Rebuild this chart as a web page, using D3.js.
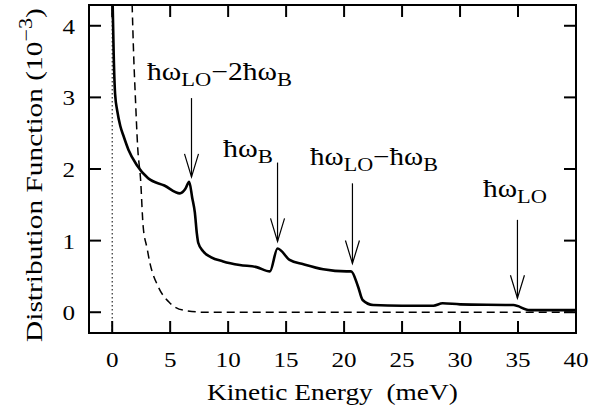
<!DOCTYPE html>
<html><head><meta charset="utf-8">
<script src="https://cdn.jsdelivr.net/npm/d3@7"></script>
<style>body{margin:0;background:#fff}svg{display:block}</style>
</head><body><svg id="c" width="611" height="413"></svg>
<script>
// Solid curve: simulated distribution (E in meV, f in 1e-3)
const solidE = [0.04,0.13,0.25,0.45,0.7,1.0,1.4,2.1,3.1,4.5,5.84,6.3,6.64,6.9,7.13,7.3,7.42,7.84,8.5,9.57,11,12.45,13.6,14.26,15.3,16.5,18.2,20.2,20.6,21.2,21.6,22.5,25,27.7,28.5,30,34.6,36,40];
const solidF = [4.3,3.6,3.05,2.8,2.6,2.45,2.27,2.06,1.87,1.77,1.66,1.72,1.82,1.6,1.39,1.1,0.97,0.85,0.77,0.71,0.66,0.63,0.57,0.89,0.73,0.67,0.60,0.57,0.57,0.36,0.17,0.10,0.09,0.09,0.125,0.11,0.10,0.03,0.03];
// Dashed curve: equilibrium distribution
const dashE = [1.72,1.85,2.0,2.2,2.45,2.67,3.0,3.25,3.96,4.97,6.1,8,40];
const dashF = [4.3,3.6,3.0,2.3,1.85,1.2,0.9,0.69,0.36,0.13,0.03,0.0,0.0];
const xTicks = [0,5,10,15,20,25,30,35,40];
const yTicks = [0,1,2,3,4];
// Arrow annotations
const arrowE = [6.84,14.26,20.72,34.95];
const arrowTop = [2.99,2.09,1.80,1.29];
const arrowTip = [1.89,0.99,0.68,0.195];

const FONT = 'Liberation Serif, Tinos, Times New Roman, serif';
const svg = d3.select("#c").style("font-family",FONT);
const L=89,R=576,T=5,B=333;
const x = d3.scaleLinear().domain([-2,40]).range([L,R]);
const y = d3.scaleLinear().domain([-0.29,4.29]).range([B,T]);

svg.append("clipPath").attr("id","cl").append("rect").attr("x",L).attr("y",T).attr("width",R-L).attr("height",B-T);
const g = svg.append("g").attr("clip-path","url(#cl)");

g.append("line").attr("x1",x(0)).attr("x2",x(0)).attr("y1",T).attr("y2",B)
 .attr("stroke","#000").attr("stroke-width",1).attr("stroke-dasharray","1.5,2.5");

const line = d3.line().x(d=>x(d[0])).y(d=>y(d[1])).curve(d3.curveMonotoneX);
g.append("path").datum(dashE.map((e,i)=>[e,dashF[i]])).attr("d",line)
 .attr("fill","none").attr("stroke","#000").attr("stroke-width",1.5).attr("stroke-dasharray","8,5");
g.append("path").datum(solidE.map((e,i)=>[e,solidF[i]])).attr("d",line)
 .attr("fill","none").attr("stroke","#000").attr("stroke-width",2.6);

svg.append("rect").attr("x",L).attr("y",T).attr("width",R-L).attr("height",B-T)
 .attr("fill","none").attr("stroke","#000").attr("stroke-width",2);

const tl = 12;
const ax = svg.append("g").attr("stroke","#000").attr("stroke-width",2);
xTicks.forEach(t=>{
  ax.append("line").attr("x1",x(t)).attr("x2",x(t)).attr("y1",B).attr("y2",B-tl);
  ax.append("line").attr("x1",x(t)).attr("x2",x(t)).attr("y1",T).attr("y2",T+tl);
});
yTicks.forEach(t=>{
  ax.append("line").attr("x1",L).attr("x2",L+tl).attr("y1",y(t)).attr("y2",y(t));
  ax.append("line").attr("x1",R).attr("x2",R-tl).attr("y1",y(t)).attr("y2",y(t));
});

function sx(sel, cx, s){ sel.attr("transform",`translate(${cx},0) scale(${s},1) translate(${-cx},0)`); }
function fit(sel, x0, target){ const w = sel.node().getBBox().width; sx(sel, x0, target/w); }

svg.selectAll(".xl").data(xTicks).enter().append("text").style("font-family",FONT)
 .attr("x",d=>x(d)).attr("y",367).attr("text-anchor","middle").attr("font-size",22).text(d=>d)
 .each(function(d){ sx(d3.select(this), x(d), 1.14); });
svg.selectAll(".yl").data(yTicks).enter().append("text").style("font-family",FONT)
 .attr("x",75).attr("y",d=>y(d)+8).attr("text-anchor","end").attr("font-size",22).text(d=>d)
 .each(function(){ sx(d3.select(this), 75, 1.14); });

const xt = svg.append("text").style("font-family",FONT).attr("x",207).attr("y",400).attr("font-size",24)
 .attr("xml:space","preserve").text("Kinetic Energy  (meV)");
fit(xt, 207, 251);

const ytg = svg.append("g").attr("transform","translate(42,342) rotate(-90)");
const yt = ytg.append("text").style("font-family",FONT).attr("x",0).attr("y",0).attr("font-size",24);
yt.append("tspan").text("Distribution Function (10");
yt.append("tspan").attr("dy",-10).attr("font-size",18).text("−3");
yt.append("tspan").attr("dy",10).text(")");
fit(yt, 0, 334);

const ag = svg.append("g").attr("stroke","#000").attr("fill","none").attr("stroke-width",1.2);
arrowE.forEach((e,i)=>{
  const px=x(e), y0=y(arrowTop[i]), y1=y(arrowTip[i]);
  ag.append("line").attr("x1",px).attr("x2",px).attr("y1",y0).attr("y2",y1);
  ag.append("path").attr("d",`M${px-7},${y1-23}L${px},${y1}L${px+7},${y1-23}`);
});

function label(xp,yp,w,parts){
  const t = svg.append("text").style("font-family",FONT).attr("x",xp).attr("y",yp).attr("font-size",25);
  parts.forEach(p=>{
    const s=t.append("tspan").text(p[0]);
    if(p[1]==="sub") s.attr("dy",6).attr("font-size",19);
    if(p[1]==="base") s.attr("dy",-6);
  });
  fit(t, xp, w);
}
label(147,80,145,[["ħω"],["LO","sub"],["−2ħω","base"],["B","sub"]]);
label(223,157,50,[["ħω"],["B","sub"]]);
label(310,165,128,[["ħω"],["LO","sub"],["−ħω","base"],["B","sub"]]);
label(483,197,64,[["ħω"],["LO","sub"]]);
</script></body></html>
